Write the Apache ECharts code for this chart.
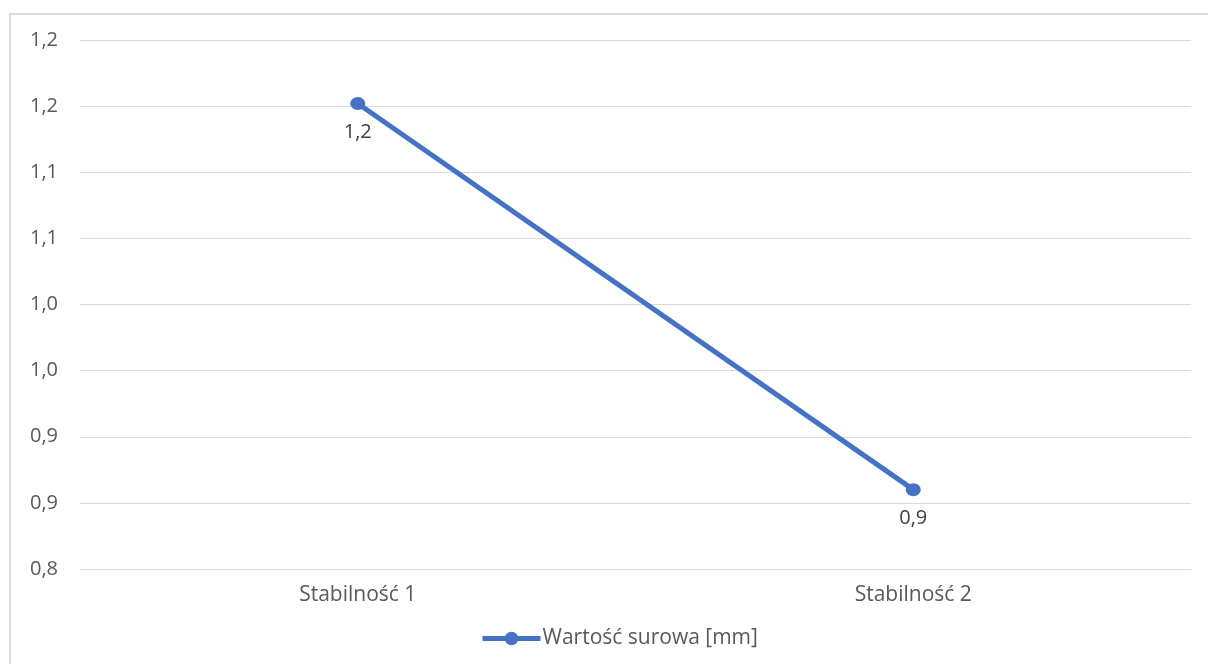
<!DOCTYPE html>
<html>
<head>
<meta charset="utf-8">
<script src="https://cdn.jsdelivr.net/npm/echarts@6/dist/echarts.min.js"></script>
<style>
  html, body { margin: 0; padding: 0; background: #ffffff; }
  #frame {
    position: absolute; left: 9px; top: 13px; width: 1199px; height: 651px;
    border-left: 2px solid #d9d9d9; border-top: 2px solid #d9d9d9;
    box-sizing: border-box;
  }
  #chart { position: absolute; left: 0; top: 0; width: 1208px; height: 664px; }
</style>
</head>
<body>
<div id="frame"></div>
<div id="chart"></div>
<script>
// Categories and measured values
const categories = ['Stabilność 1', 'Stabilność 2'];
const rawValues = [1.152, 0.86];
const seriesName = 'Wartość surowa [mm]';

// One-decimal label with a comma as the decimal separator
const fmt = v => (Math.round(v * 10 + 1e-9) / 10).toFixed(1).replace('.', ',');

const chart = echarts.init(document.getElementById('chart'), null, { renderer: 'canvas' });
chart.setOption({
  animation: false,
  textStyle: { fontFamily: 'Open Sans' },
  grid: { left: 80, right: 17, top: 40, bottom: 95, containLabel: false },
  legend: {
    top: 628,
    left: 480,
    padding: 0,
    itemWidth: 58,
    itemHeight: 17,
    itemGap: 2,
    lineStyle: { width: 5 },
    textStyle: { color: '#595959', fontSize: 21, fontFamily: 'Open Sans', padding: [0, 0, 0, -3] },
    data: [seriesName]
  },
  xAxis: {
    type: 'category',
    data: categories,
    boundaryGap: true,
    axisLine: { lineStyle: { color: '#d9d9d9', width: 1 } },
    axisTick: { show: false },
    axisLabel: { color: '#595959', fontSize: 21, margin: 16 }
  },
  yAxis: {
    type: 'value',
    min: 0.8,
    max: 1.2,
    interval: 0.05,
    axisLine: { show: false },
    axisTick: { show: false },
    splitLine: { lineStyle: { color: '#d9d9d9', width: 1 } },
    axisLabel: { color: '#595959', fontSize: 20, margin: 22, formatter: v => fmt(v) }
  },
  series: [{
    name: seriesName,
    type: 'line',
    data: rawValues,
    symbol: 'circle',
    symbolSize: [15, 13],
    lineStyle: { color: '#4472c4', width: 5 },
    itemStyle: { color: '#4472c4' },
    label: {
      show: true,
      position: 'bottom',
      distance: 12,
      color: '#404040',
      fontSize: 20,
      formatter: p => fmt(p.value)
    }
  }]
});
</script>
</body>
</html>
